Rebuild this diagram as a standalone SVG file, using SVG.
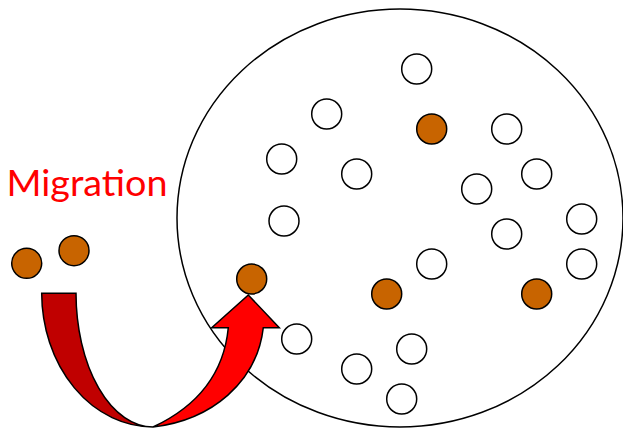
<svg xmlns="http://www.w3.org/2000/svg" width="623" height="428" viewBox="0 0 623 428">
<style>
.c{fill:#fff;stroke:#000;stroke-width:1.5}
.b{fill:#C86400;stroke:#000;stroke-width:1.5}
.a{stroke:#000;stroke-width:1.5;stroke-linejoin:miter}
</style>
<rect width="623" height="428" fill="#fff"/>
<g id="population">
<ellipse cx="400" cy="218" rx="223" ry="209" fill="none" stroke="#000" stroke-width="1.5"/>
</g>
<g id="individuals">
<circle class="c" cx="416.7" cy="69" r="15"/>
<circle class="c" cx="326.7" cy="114" r="15"/>
<circle class="b" cx="431.7" cy="129" r="15"/>
<circle class="c" cx="506.7" cy="129" r="15"/>
<circle class="c" cx="281.7" cy="159" r="15"/>
<circle class="c" cx="356.7" cy="174" r="15"/>
<circle class="c" cx="536.7" cy="174" r="15"/>
<circle class="c" cx="476.7" cy="189" r="15"/>
<circle class="c" cx="284" cy="221" r="15"/>
<circle class="c" cx="581.7" cy="219" r="15"/>
<circle class="c" cx="506.7" cy="234" r="15"/>
<circle class="c" cx="431.7" cy="264" r="15"/>
<circle class="c" cx="581.7" cy="264" r="15"/>
<circle class="b" cx="386.7" cy="294" r="15"/>
<circle class="b" cx="536.7" cy="294" r="15"/>
<circle class="c" cx="296.7" cy="339" r="15"/>
<circle class="c" cx="411.7" cy="349" r="15"/>
<circle class="c" cx="356.7" cy="369" r="15"/>
<circle class="c" cx="401.7" cy="399" r="15"/>
</g>
<g id="migrants">
<circle class="b" cx="26.7" cy="263.3" r="15"/>
<circle class="b" cx="74" cy="250.7" r="15"/>
<circle class="b" cx="251.7" cy="279" r="15"/>
</g>
<g id="connectors">
<path class="a" fill="#C00000" d="M41.7,293.3 L76,293.3 A77,134 0 0 0 153,427 A111.3,134 0 0 1 41.7,293.3 Z"/>
<path class="a" fill="#FF0000" d="M153,427 C212,420 257,382 263.3,327.7 L279.3,327.7 L248.3,295 L211.7,327.7 L228.3,327.7 C224,372 200,405 153,427 Z"/>
</g>
<g id="label">
<text x="6.5" y="196" font-family="Lato, 'Open Sans', sans-serif" font-size="36" fill="#FF0000" textLength="161" lengthAdjust="spacingAndGlyphs">Migration</text>
</g>
</svg>
